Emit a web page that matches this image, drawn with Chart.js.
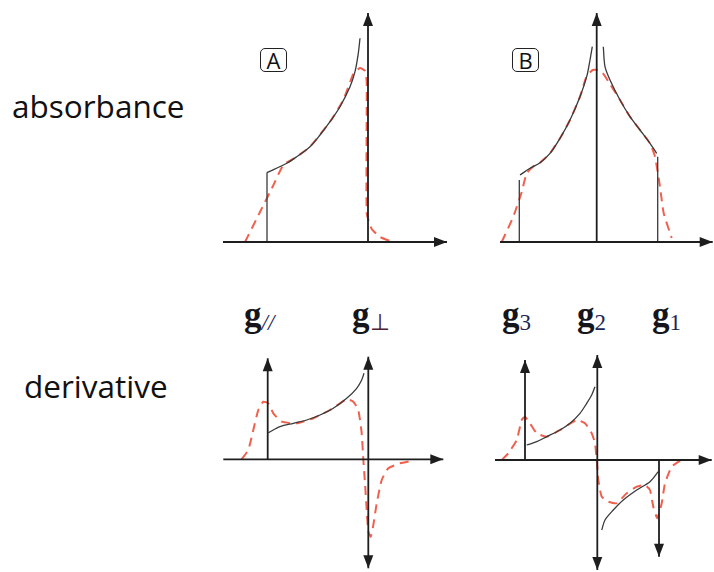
<!DOCTYPE html>
<html>
<head>
<meta charset="utf-8">
<script src="https://cdn.jsdelivr.net/npm/chart.js@4"></script>
<style>
body{margin:0;background:#fff;width:714px;height:572px;position:relative;overflow:hidden;}
canvas{position:absolute;}
.lab{position:absolute;font-family:"Open Sans",sans-serif;font-size:31.5px;line-height:1;color:#111;white-space:nowrap;}
.box{position:absolute;width:25px;height:22px;border:1.5px solid #222;border-radius:5px;font-family:"Open Sans",sans-serif;font-size:22px;line-height:22px;text-align:center;color:#111;}
.g{position:absolute;font-family:"Liberation Serif",serif;font-weight:bold;font-size:35px;line-height:1;color:#15151c;white-space:nowrap;}
.g span{font-weight:normal;font-size:23px;position:relative;top:4px;color:#1d2754;}
</style>
</head>
<body>

<div class="lab" style="left:12px;top:90px">absorbance</div>
<div class="lab" style="left:24px;top:370px">derivative</div>
<div class="box" style="left:260px;top:48px">A</div>
<div class="box" style="left:512px;top:48px">B</div>
<div class="g" style="left:244px;top:297px">g<span style="font-style:italic">//</span></div>
<div class="g" style="left:352px;top:297px">g<span style="color:#4a2230">⊥</span></div>
<div class="g" style="left:502px;top:297px">g<span>3</span></div>
<div class="g" style="left:577px;top:297px">g<span>2</span></div>
<div class="g" style="left:652px;top:297px">g<span>1</span></div>

<canvas id="absA" width="230" height="250" style="left:220px;top:0px"></canvas>
<canvas id="absB" width="234" height="250" style="left:480px;top:0px"></canvas>
<canvas id="derA" width="230" height="282" style="left:220px;top:290px"></canvas>
<canvas id="derB" width="234" height="282" style="left:480px;top:290px"></canvas>

<script>
// ================= DATA (x = field offset from g axis, y = intensity) =================

// A : axial, absorbance
const absA_base = [[-145,0],[79,0]];
const absA_gPerp = [[0,0],[0,229]];
const absA_step = [[-101,0],[-101,69]];
const absA_line = [[-101.3,69.3],[-81.3,78.7],[-71.3,85.3],[-58,95.3],[-48,107],[-38,120.3],[-28,135.3],[-18,155.3],[-13,170.3],[-9.7,188.7],[-8,203.7]];
const absA_broad = [[-123,0],[-108,30],[-95,56],[-84.7,77],[-71.3,85.3],[-58,95.3],[-38,120.3],[-24.7,142],[-14.7,168],[-8,174],[-3,171],[-1.3,160],[-1.3,28.7],[3.7,13],[12,5],[22,1]];

// B : rhombic, absorbance
const absB_base = [[-96.7,0],[116,0]];
const absB_g2 = [[0,0],[0,229]];
const absB_stepL = [[-77.4,0],[-77.4,62]];
const absB_lineL = [[-76.7,67],[-66.7,73.7],[-56.7,79.3],[-46.7,88.7],[-36.7,103.7],[-26.7,122],[-16.7,145.3],[-10,165.3],[-6.7,182],[-4.4,195.3]];
const absB_lineR = [[6.6,195.3],[8.3,175.3],[13.3,162],[23.3,142],[33.3,125.3],[43.3,112],[53.3,98.7],[60,88.7]];
const absB_stepR = [[61,85.3],[61,0]];
const absB_broad = [[-95,0],[-83.4,25.3],[-75,50],[-70,68.7],[-62,77],[-56.7,79.3],[-46.7,88.7],[-36.7,103.7],[-26.7,122],[-16.7,145.3],[-10,166],[-4,172],[1,172],[6,169],[13.3,158],[23.3,142],[33.3,125.3],[43.3,112],[53.3,98.7],[58.3,85.3],[63.3,55.3],[67,28.7],[75,4]];

// A : axial, derivative
const derA_base = [[-145,0],[75,0]];
const derA_gPar = [[-100.6,0],[-100.6,101]];
const derA_gPerp = [[0,-109],[0,102.6]];
const derA_line = [[-100,26.6],[-88.3,32.6],[-75,36],[-61.6,39.3],[-48.3,44.3],[-35,51],[-21.6,61],[-11.6,71],[-6.6,79.3],[-4.3,86]];
const derA_broad = [[-126.6,0],[-120,9.3],[-115,29.3],[-110,49.3],[-105,57.6],[-100,56],[-95,46],[-86.6,37.6],[-71.6,36],[-55,41],[-38.3,49.3],[-21.6,60],[-15,57.6],[-10,49.3],[-6.6,26],[-5,0],[-3.3,-24],[-1.6,-50.7],[0,-72],[2.4,-77.4],[5,-66],[8.4,-44],[13.4,-20.7],[20,-9],[31.7,-4],[45,-1.3]];

// B : rhombic, derivative
const derB_base = [[-102.3,0],[114.4,0]];
const derB_g3 = [[-72.3,0],[-72.3,100]];
const derB_g2 = [[0,-110],[0,105]];
const derB_g1 = [[61.7,0],[61.7,-96.7]];
const derB_lineL = [[-70.6,15],[-60.6,18.3],[-50.6,23.3],[-37.3,30],[-27.3,36.7],[-17.3,46.7],[-10.6,56.7],[-5.6,65],[-2.3,73.3]];
const derB_lineR = [[4.4,-70],[7.7,-60],[16,-50],[26,-40],[39.4,-30],[52.7,-21.7],[61,-11.7]];
const derB_broad = [[-95.6,0],[-89,6.7],[-80.6,20],[-75.6,40],[-72.3,43.3],[-67.3,36.7],[-60.6,26.7],[-50.6,23.3],[-37.3,30],[-20.6,40],[-12.3,36.7],[-5.6,26.7],[-2.3,16.7],[-0.6,0],[1,-20],[4.4,-36.7],[11,-41.7],[19.4,-43.3],[29.4,-33.3],[39.4,-26.7],[47.7,-25],[52.7,-30],[56,-46.7],[60,-58.3],[64.4,-43.3],[67.7,-23.3],[74.4,-6.7],[82.7,-0.7]];

// ================= STYLES =================

const AXIS = "#1e1e1e";
const SHARP = "#3a3a3a";
const BROAD = "#f0604e";

function pts(a){ return a.map(p=>({x:p[0],y:p[1]})); }

function axis(d,arrow){
return {data:pts(d),borderColor:AXIS,borderWidth:1.8,tension:0,arrow:arrow};
}
function sharp(d,t){
return {data:pts(d),borderColor:SHARP,borderWidth:1.3,tension:t};
}
function broad(d){
return {data:pts(d),borderColor:BROAD,borderWidth:2,borderDash:[9,6],tension:0.15};
}

// ================= ARROW HEADS =================

const arrowHeads={
id:"arrowHeads",
afterDatasetsDraw(chart){
const ctx=chart.ctx;
chart.data.datasets.forEach((ds,i)=>{
if(!ds.arrow) return;
const p=chart.getDatasetMeta(i).data;
const n=p.length;
const head=(tip,from)=>{
const dx=tip.x-from.x, dy=tip.y-from.y;
const L=Math.hypot(dx,dy);
const ux=dx/L, uy=dy/L;
const len=13, hw=5;
ctx.beginPath();
ctx.moveTo(tip.x,tip.y);
ctx.lineTo(tip.x-ux*len-uy*hw,tip.y-uy*len+ux*hw);
ctx.lineTo(tip.x-ux*len+uy*hw,tip.y-uy*len-ux*hw);
ctx.closePath();
ctx.fillStyle=AXIS;
ctx.fill();
};
ctx.save();
if(ds.arrow==="end"||ds.arrow==="both") head(p[n-1],p[n-2]);
if(ds.arrow==="start"||ds.arrow==="both") head(p[0],p[1]);
ctx.restore();
});
}
};

function panel(id,xr,yr,datasets){
datasets.forEach(d=>{d.pointRadius=0;d.clip=false;d.fill=false;});
new Chart(document.getElementById(id),{
type:"line",
data:{datasets:datasets},
options:{
responsive:false,
animation:false,
layout:{padding:0},
plugins:{legend:{display:false},tooltip:{enabled:false}},
scales:{
x:{type:"linear",min:xr[0],max:xr[1],display:false},
y:{type:"linear",min:yr[0],max:yr[1],display:false}
}
},
plugins:[arrowHeads]
});
}

panel("absA",[-148,82],[-8,242],[
axis(absA_base,"end"),
axis(absA_gPerp,"end"),
sharp(absA_step,0),
sharp(absA_line,0.3),
broad(absA_broad)
]);

panel("absB",[-116.7,117.3],[-8,242],[
axis(absB_base,"end"),
axis(absB_g2,"end"),
sharp(absB_stepL,0),
sharp(absB_lineL,0.3),
sharp(absB_lineR,0.3),
sharp(absB_stepR,0),
broad(absB_broad)
]);

panel("derA",[-148.3,81.7],[-112.7,169.3],[
axis(derA_base,"end"),
axis(derA_gPar,"end"),
axis(derA_gPerp,"both"),
sharp(derA_line,0.3),
broad(derA_broad)
]);

panel("derB",[-117.3,116.7],[-112,170],[
axis(derB_base,"end"),
axis(derB_g3,"end"),
axis(derB_g2,"both"),
axis(derB_g1,"end"),
sharp(derB_lineL,0.3),
sharp(derB_lineR,0.3),
broad(derB_broad)
]);
</script>
</body>
</html>
